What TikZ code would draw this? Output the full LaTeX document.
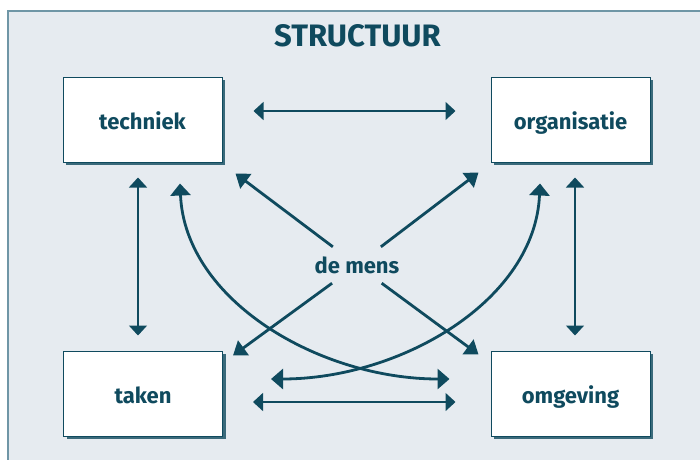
\documentclass[tikz,border=0pt]{standalone}
\usepackage{fontspec}
\setmainfont{Fira Sans}
\usetikzlibrary{arrows.meta,shadows}
\definecolor{ink}{RGB}{15,74,94}
\definecolor{paper}{RGB}{230,235,240}
\definecolor{rim}{RGB}{111,150,166}
\tikzset{
  block/.style={
    draw=ink,
    fill=white,
    line width=1pt,
    minimum width=159pt,
    minimum height=85pt,
    inner sep=0pt,
    text height=20pt,
    text depth=1pt,
    text=ink,
    font=\fontsize{22}{26}\selectfont\bfseries,
    drop shadow={shadow xshift=3pt,shadow yshift=-3pt,fill=ink,opacity=0.8}
  },
  thinarrow/.style={
    draw=ink,
    line width=1.5pt,
    arrows={Triangle[length=10pt,width=18pt]-Triangle[length=10pt,width=18pt]}
  },
  bendarrow/.style={
    draw=ink,
    line width=2.8pt,
    arrows={Triangle[length=12pt,width=20pt]-Triangle[length=12pt,width=20pt]}
  },
  ray/.style={
    draw=ink,
    line width=2.8pt,
    arrows={-Triangle[length=13pt,width=18pt]}
  }
}
\begin{document}
\begin{tikzpicture}[x=1pt,y=-1pt]
  \useasboundingbox (0,0) rectangle (700,459);
  \draw[rim,fill=paper,line width=2pt] (8,11) rectangle (712,472);
  \node[anchor=base,text=ink,font=\fontsize{31}{35}\selectfont\bfseries] (title) at (357.5,46) {STRUCTUUR};
  \node[block] (tech) at (142.5,119.5) {techniek};
  \node[block] (org) at (570.5,119.5) {organisatie};
  \node[block] (taken) at (143,393.5) {taken};
  \node[block] (omg) at (570.5,393.5) {omgeving};
  \node[text=ink,font=\fontsize{22}{26}\selectfont\bfseries,text height=16pt,text depth=0pt,
        inner xsep=4pt,inner ysep=10pt] (mens) at (357,265) {de mens};
  % straight links
  \draw[thinarrow,shorten <=31pt,shorten >=35pt] ([yshift=8.5pt]tech.east) -- ([yshift=8.5pt]org.west);
  \draw[thinarrow,shorten <=30pt,shorten >=35pt] ([yshift=-8.5pt]taken.east) -- ([yshift=-8.5pt]omg.west);
  \draw[thinarrow,shorten <=15pt,shorten >=15pt] ([xshift=-4.5pt]tech.south) -- ([xshift=-5pt]taken.north);
  \draw[thinarrow,shorten <=15pt,shorten >=15pt] ([xshift=4.5pt]org.south) -- ([xshift=4.5pt]omg.north);
  % curved links
  \coordinate (c1a) at ([shift={(37.5,21)}]tech.south);
  \coordinate (c1b) at ([shift={(-41,-14.5)}]omg.west);
  \coordinate (c2a) at ([shift={(-30.5,21)}]org.south);
  \coordinate (c2b) at ([shift={(48,-14.5)}]taken.east);
  \draw[bendarrow] (c1a) .. controls +(5,117) and +(-130,0) .. (c1b);
  \draw[bendarrow] (c2a) .. controls +(-5,117) and +(130,0) .. (c2b);
  % de mens
  \coordinate (rtech) at ([shift={(13,11)}]tech.south east);
  \coordinate (rorg) at ([shift={(-12,10)}]org.south west);
  \coordinate (rtaken) at ([shift={(10,5)}]taken.north east);
  \coordinate (romg) at ([shift={(-12,4)}]omg.north west);
  \draw[ray] (mens) -- (rtech);
  \draw[ray] (mens) -- (rorg);
  \draw[ray] (mens) -- (rtaken);
  \draw[ray] (mens) -- (romg);
\end{tikzpicture}
\end{document}
